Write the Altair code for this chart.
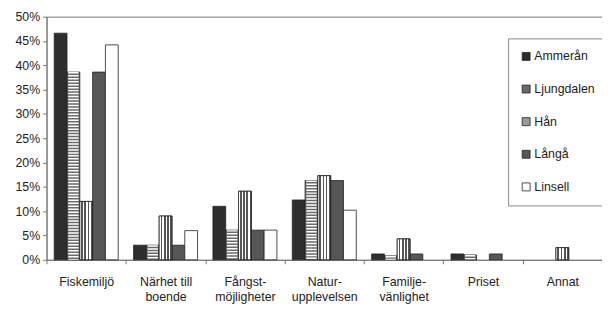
import altair as alt
import pandas as pd

categories = ["Fiskemiljö", "Närhet till\nboende", "Fångst-\nmöjligheter",
              "Natur-\nupplevelsen", "Familje-\nvänlighet", "Priset", "Annat"]
series = ["Ammerån", "Ljungdalen", "Hån", "Långå", "Linsell"]

ammeran = [46.6, 3.0, 11.0, 12.3, 1.2, 1.2, 0.0]
ljungdalen = [38.6, 3.0, 6.1, 16.3, 0.8, 1.0, 0.0]
han = [12.0, 9.0, 14.1, 17.3, 4.3, 0.0, 2.5]
langa = [38.6, 3.0, 6.1, 16.3, 1.2, 1.2, 0.0]
linsell = [44.2, 6.0, 6.1, 10.2, 0.0, 0.0, 0.0]

values = [ammeran, ljungdalen, han, langa, linsell]
rows = []
for s, vals in zip(series, values):
    for c, v in zip(categories, vals):
        rows.append({"cat": c, "series": s, "value": v / 100.0})
df = pd.DataFrame(rows)

fills = ["#2e2e2e", "#6a6a6a", "#9a9a9a", "#575757", "#ffffff"]

xenc = alt.X("cat:N", sort=categories,
             scale=alt.Scale(domain=categories, paddingInner=0, paddingOuter=0),
             axis=alt.Axis(title=None, labelAngle=0, tickBand="extent",
                           labelExpr="split(datum.label, '\\n')",
                           labelLineHeight=15, labelPadding=12, tickSize=4,
                           labelFontSize=12.5))
xoff = alt.XOffset("series:N", sort=series,
                   scale=alt.Scale(domain=series, paddingInner=0, paddingOuter=0.6))
yenc = alt.Y("value:Q", scale=alt.Scale(domain=[0, 0.5]),
             axis=alt.Axis(title=None, format=".0%",
                           values=[0, 0.05, 0.1, 0.15, 0.2, 0.25, 0.3, 0.35, 0.4, 0.45, 0.5],
                           grid=False, tickSize=4, labelFontSize=12.5, labelPadding=3))

base = alt.Chart(df).transform_filter(alt.datum.value > 0)

bars = base.mark_bar(stroke="#222", strokeWidth=0.8).encode(
    x=xenc, xOffset=xoff, y=yenc,
    fill=alt.Fill("series:N", sort=series,
                  scale=alt.Scale(domain=series, range=fills),
                  legend=alt.Legend(title=None, orient="none", legendX=467, legendY=22,
                                    symbolType="square", symbolSize=64,
                                    symbolStrokeColor="#222", symbolStrokeWidth=0.8,
                                    labelFontSize=12.5, labelOffset=2, rowPadding=20,
                                    padding=12, strokeColor="#888", fillColor="white")),
)

stripes_h = base.transform_filter(alt.datum.series == "Ljungdalen").mark_rule(
    color="#ffffff", strokeWidth=10.5, strokeDash=[1.5, 1.5]
).encode(x=xenc, xOffset=xoff, y=yenc, y2=alt.datum(0))

stops = []
n = 4
for i in range(n):
    a = i / n
    b = (i + 0.45) / n
    c = (i + 1) / n
    stops += [alt.GradientStop(offset=a, color="#ffffff"),
              alt.GradientStop(offset=b, color="#ffffff"),
              alt.GradientStop(offset=b, color="#555555"),
              alt.GradientStop(offset=c, color="#555555")]

han_bars = base.transform_filter(alt.datum.series == "Hån").mark_bar(
    stroke="#222", strokeWidth=0.8,
    fill=alt.Gradient(gradient="linear", x1=0, x2=1, y1=0, y2=0, stops=stops)
).encode(x=xenc, xOffset=xoff, y=yenc)

chart = alt.layer(bars, stripes_h, han_bars).properties(
    width=562, height=246,
    autosize=alt.AutoSizeParams(type="none"),
    padding={"left": 39, "top": 7, "right": 0, "bottom": 45},
).configure_view(stroke="#777").configure_axis(
    labelFont="Liberation Sans", labelColor="#222", domainColor="#777",
    tickColor="#777"
).configure_legend(labelFont="Liberation Sans", labelColor="#222")

chart.save("out.html", embed_options={"renderer": "svg", "actions": False})
